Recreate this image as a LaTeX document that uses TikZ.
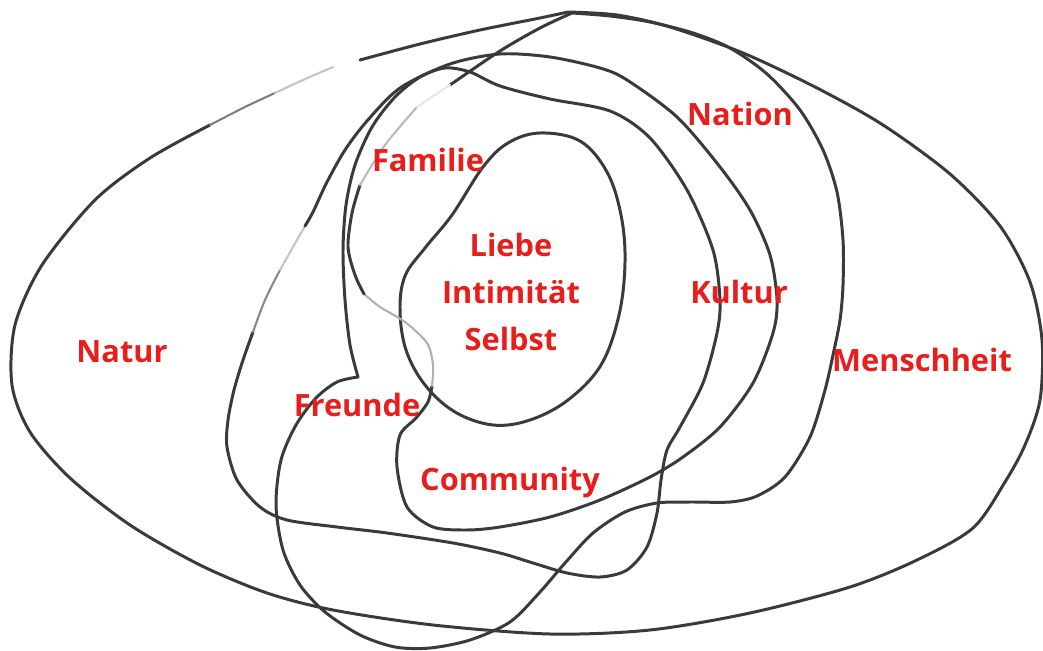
\documentclass[tikz,border=0pt]{standalone}
\usepackage{fontspec}
\newfontfamily\labelfont{Open Sans}
\usepackage{tikz}

\definecolor{labelred}{RGB}{232,30,28}
\definecolor{pencil}{RGB}{58,58,58}

\begin{document}
\begin{tikzpicture}[x=0.02cm,y=-0.02cm,
    ringline/.style={draw=pencil,line width=1.7pt,line cap=round,line join=round},
    ringfade/.style={draw=pencil!#1,line width=1.2pt,line cap=round},
    ringlabel/.style={text=labelred,font=\labelfont\bfseries\fontsize{17.5}{20}\selectfont,
      inner sep=0pt,text height=1.35ex,text depth=0pt,node distance=0.94cm}]
    \useasboundingbox (0,0) rectangle (1043,651);

    %% Liebe / Intimitaet / Selbst
    \draw[ringline] plot[smooth cycle,tension=0.6] coordinates {(540,133) (580,141) (607,172)
      (621,215) (625,262) (619,315) (601,365) (568,400) (530,420) (493,425) (455,412) (425,385)
      (406,350) (400,310) (405,276) (425,248) (452,215) (483,167) (508,143)};

    %% Menschheit (outer)
    \draw[ringline] plot[smooth] coordinates {(360,60) (420,44) (480,30) (540,18) (568,12)}
      -- plot[smooth] coordinates {(568,12) (617,15) (670,27) (743,53) (817,88) (883,125)
      (950,174) (1000,226) (1030,282) (1042,340) (1040,400) (1025,445) (1005,482) (973,528)
      (917,560) (850,587) (750,613) (650,630) (550,634) (433,625) (333,610) (267,593) (200,565)
      (130,525) (70,478) (30,432) (12,385) (15,325) (42,265) (95,200) (150,158) (210,125)};
    \draw[ringfade=65] plot[smooth] coordinates {(210,125) (245,107) (275,93)};
    \draw[ringfade=30] plot[smooth] coordinates {(275,93) (303,80) (333,67)};

    %% Nation -> Freunde -> Familie/Kultur
    \draw[ringline] plot[smooth] coordinates {(450,85) (500,51) (540,28) (572,13)}
      -- plot[smooth] coordinates {(572,13) (610,16) (650,22) (693,33) (730,48) (767,74)
      (800,110) (823,150) (837,192) (843,240) (843,285) (840,320) (833,355) (825,390) (810,437)
      (785,477) (757,496) (730,502) (690,502) (657,503) (625,512) (593,533) (565,563) (540,592)
      (510,622) (470,640) (430,648) (395,647) (360,635) (325,612) (300,585) (283,550) (276,505)
      (281,460) (296,425) (316,398) (337,382) (358,377)}
      -- plot[smooth] coordinates {(358,377) (350,345) (345,300) (343,250) (346,205) (355,165)
      (372,127) (395,97) (420,77) (445,68) (470,72) (500,86) (550,99) (610,111) (650,138)
      (687,190) (713,250) (720,300) (717,333) (703,383) (680,427) (667,450) (661,480) (657,513)
      (647,547) (627,570) (600,577) (567,573) (533,563) (500,553) (453,543) (387,533) (337,527)
      (287,520) (260,507) (237,480) (227,447) (228,420) (234,390) (243,360) (253,332)};
    \draw[ringfade=60] plot[smooth] coordinates {(253,332) (265,300) (280,270)};
    \draw[ringfade=30] plot[smooth] coordinates {(280,270) (293,247) (305,226)};

    %% Community
    \draw[ringline] plot[smooth] coordinates {(305,226) (313,212) (327,182) (345,150) (367,121)
      (400,88) (450,64) (500,54) (550,57) (600,68) (627,80) (677,117) (720,167) (750,210)
      (770,255) (777,300) (773,333) (753,383) (720,427) (683,457) (650,477) (600,500) (550,517)
      (500,527) (467,530) (433,527) (407,507) (397,467) (400,435) (416,418) (428,402) (432,386)};
    \draw[ringfade=40] plot[smooth] coordinates {(432,386) (433,365) (427,343) (405,322)
      (380,307) (364,294)};
    \draw[ringline] plot[smooth] coordinates {(364,294) (355,275) (348,247) (352,213) (360,185)};
    \draw[ringfade=35] plot[smooth] coordinates {(360,185) (385,145) (417,107)};
    \draw[ringfade=12] (417,107) -- (450,85);

    %% labels
    \node[ringlabel] (natur) at (122,357) {Natur};
    \node[ringlabel] (menschheit) at (922,366) {Menschheit};
    \node[ringlabel] (nation) at (740,120) {Nation};
    \node[ringlabel] (kultur) at (739,298) {Kultur};
    \node[ringlabel] (familie) at (428,166) {Familie};
    \node[ringlabel] (freunde) at (357,411) {Freunde};
    \node[ringlabel] (community) at (510,485) {Community};
    \node[ringlabel] (liebe) at (511,251) {Liebe};
    \node[ringlabel,below of=liebe] (intim) {Intimität};
    \node[ringlabel,below of=intim] (selbst) {Selbst};
\end{tikzpicture}
\end{document}
